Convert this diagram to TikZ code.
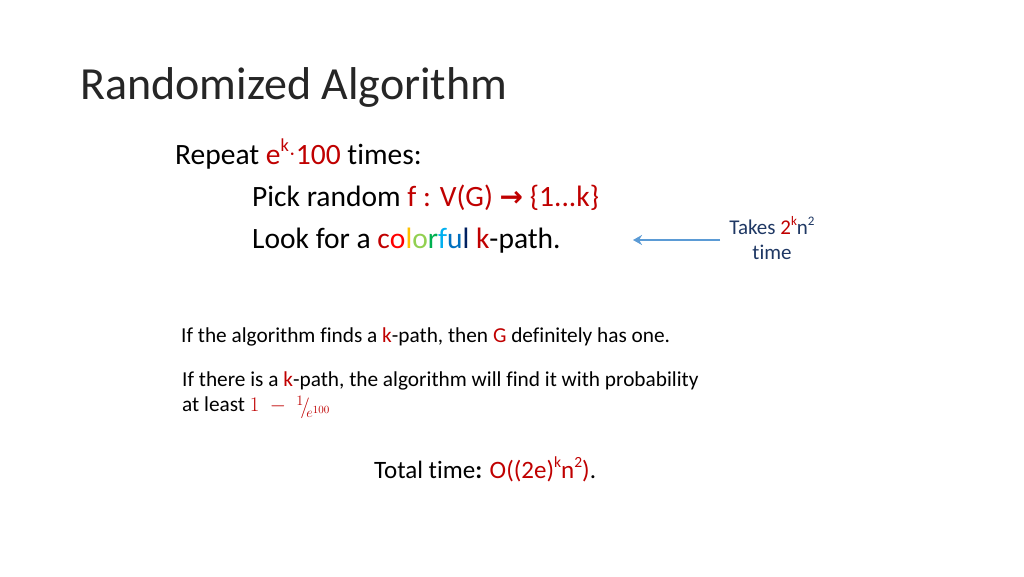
\documentclass[tikz,border=0pt]{standalone}
\usepackage{fontspec}
\setmainfont[Ligatures=NoCommon]{Carlito}
\newfontfamily\djv{DejaVu Sans}
\usetikzlibrary{arrows.meta}
\definecolor{dred}{HTML}{C00000}
\definecolor{cred}{HTML}{FF0000}
\definecolor{corange}{HTML}{FFC000}
\definecolor{clgreen}{HTML}{92D050}
\definecolor{cgreen}{HTML}{00B050}
\definecolor{clblue}{HTML}{00B0F0}
\definecolor{cblue}{HTML}{0070C0}
\definecolor{cdblue}{HTML}{002060}
\definecolor{navy}{HTML}{1F3864}
\definecolor{arrowblue}{HTML}{5B9BD5}
\tikzset{
  txt/.style={anchor=base west, inner sep=0pt},
  titlefont/.style={font=\fontsize{46}{54}\selectfont},
  bigfont/.style={font=\fontsize{29.5}{34}\selectfont},
  midfont/.style={font=\fontsize{25}{30}\selectfont},
  smallfont/.style={font=\fontsize{21.3}{25}\selectfont},
  notefont/.style={font=\fontsize{21}{25}\selectfont},
  noteline/.style={arrowblue, line width=2.8pt, -{Stealth[length=9pt,width=10pt]}}
}
\makeatletter
\newcommand{\upx}[1]{\raisebox{0.42em}{\fontsize{0.62\dimexpr\f@size pt\relax}{1}\selectfont #1}}
\makeatother
\newcommand{\rd}[1]{\textcolor{dred}{#1}}
\begin{document}
\begin{tikzpicture}[x=1pt,y=-1pt]
\useasboundingbox (0,0) rectangle (1024,576);
\fill[white] (0,0) rectangle (1024,576);
\node[txt,titlefont,text=black!85] (title) at (80,99) {Randomized Algorithm};
\node[txt,bigfont] (repeat) at (175,164) {Repeat \rd{e\upx{k}\raisebox{0.12em}{$\cdot$}100} times:};
\node[txt,bigfont] (pick) at (252,206) {Pick random \rd{f : V(G) {\djv\bfseries\fontsize{28}{30}\selectfont →} \{1...k\}}};
\node[txt,bigfont] (look) at (252,248) {Look for a \textcolor{dred}{c}\textcolor{cred}{o}\textcolor{corange}{l}\textcolor{clgreen}{o}\textcolor{cgreen}{r}\textcolor{clblue}{f}\textcolor{cblue}{u}\textcolor{cdblue}{l} \rd{k}-path.};
\node[anchor=base, inner sep=0pt, notefont, text=navy] (takes) at (772,234) {Takes \rd{2\upx{k}}n\upx{2}};
\node[anchor=base, inner sep=0pt, notefont, text=navy] (time) at (772,259) {time};
\coordinate (arrstart) at (720,240);
\coordinate (arrend) at (633,240);
\draw[noteline] (arrstart) -- (arrend);
\node[txt,smallfont] (finds) at (181,342) {If the algorithm finds a \rd{k}-path, then \rd{G} definitely has one.};
\node[txt,smallfont] (there) at (182,386) {If there is a \rd{k}-path, the algorithm will find it with probability};
\node[txt,smallfont] (least) at (182,411) {at least \textcolor{dred}{\fontsize{22}{24}\selectfont$1\;-\;\raisebox{-0.1em}{${}^{1}\!/\!_{e^{100}}$}$}};
\node[txt,midfont] (total) at (374,478) {Total time\textbf{:} \rd{O((2e)\upx{k}n\upx{2})}.};
\end{tikzpicture}
\end{document}
